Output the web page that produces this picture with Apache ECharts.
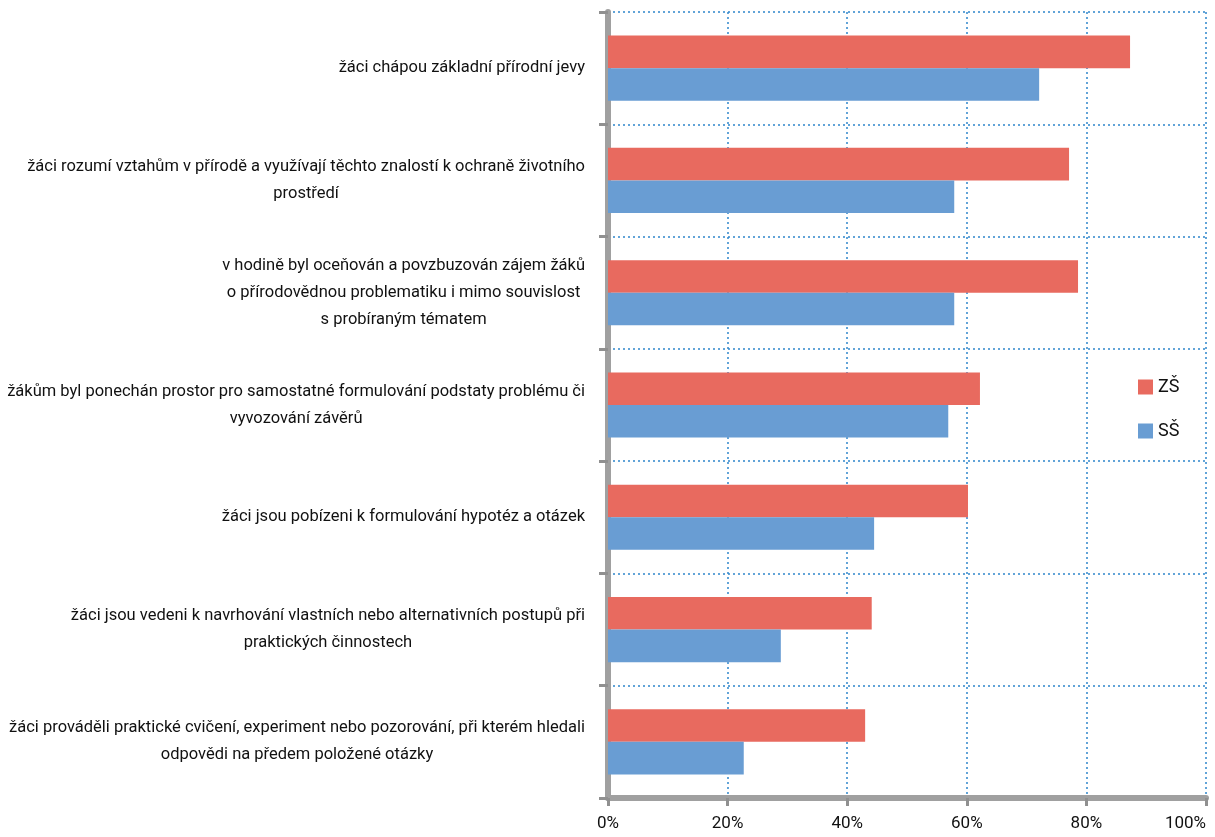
<!DOCTYPE html>
<html>
<head>
<meta charset="utf-8">
<script src="https://cdn.jsdelivr.net/npm/echarts@6/dist/echarts.min.js"></script>
<style>html,body{margin:0;padding:0;background:#fff}#c{width:1215px;height:837px}</style>
</head>
<body>
<div id="c"></div>
<script>
var categories = [
  "žáci chápou základní přírodní jevy",
  "žáci rozumí vztahům v přírodě a využívají těchto znalostí k ochraně životního\nprostředí",
  "v hodině byl oceňován a povzbuzován zájem žáků\no přírodovědnou problematiku i mimo souvislost\ns probíraným tématem",
  "žákům byl ponechán prostor pro samostatné formulování podstaty problému či\nvyvozování závěrů",
  "žáci jsou pobízeni k formulování hypotéz a otázek",
  "žáci jsou vedeni k navrhování vlastních nebo alternativních postupů při\npraktických činnostech",
  "žáci prováděli praktické cvičení, experiment nebo pozorování, při kterém hledali\nodpovědi na předem položené otázky"
];
var seriesNames = ["ZŠ", "SŠ"];
var valuesZS = [87.3, 77.1, 78.6, 62.2, 60.2, 44.1, 43.0];
var valuesSS = [72.1, 57.9, 57.9, 56.9, 44.5, 28.9, 22.7];
var xTicks = [0, 20, 40, 60, 80, 100];

var FONT = 'Roboto,"Liberation Sans",sans-serif';
var TXT = '#111111';
var chart = echarts.init(document.getElementById('c'), null, {renderer: 'canvas'});
chart.setOption({
  animation: false,
  backgroundColor: '#ffffff',
  grid: {left: 608, right: 9, top: 12, bottom: 39, containLabel: false, outerBoundsMode: 'none'},
  legend: {
    orient: 'vertical', left: 1133, top: 373,
    itemWidth: 15, itemHeight: 15, itemGap: 26,
    icon: 'rect',
    textStyle: {fontFamily: FONT, fontSize: 18, color: TXT, lineHeight: 18},
    data: seriesNames
  },
  xAxis: {
    type: 'value', min: 0, max: 100, interval: 20,
    axisLine: {show: true, lineStyle: {color: '#a0a0a0', width: 6}},
    axisTick: {show: true, length: 8, lineStyle: {color: '#909090', width: 3}},
    axisLabel: {
      fontFamily: FONT, fontSize: 17, color: TXT, margin: 17, alignMaxLabel: 'right',
      formatter: function (v) { return xTicks.indexOf(v) >= 0 ? v + '%' : ''; }
    },
    splitLine: {show: true, lineStyle: {color: '#2f86cc', type: [2, 3], width: 1.5}}
  },
  yAxis: {
    type: 'category', inverse: true, data: categories,
    axisLine: {show: true, lineStyle: {color: '#a0a0a0', width: 6}},
    axisTick: {show: true, length: 9, lineStyle: {color: '#909090', width: 3}},
    axisLabel: {
      margin: 23, align: 'right', fontFamily: FONT, fontSize: 16.5, color: TXT, lineHeight: 27,
      formatter: function (v) {
        return v.split('\n').map(function (l) { return '{c|' + l + '}'; }).join('\n');
      },
      rich: {c: {align: 'center', fontFamily: FONT, fontSize: 16.5, color: TXT, lineHeight: 27}}
    },
    splitLine: {show: true, lineStyle: {color: '#2f86cc', type: [2, 3], width: 1.5}}
  },
  series: [
    {name: seriesNames[0], type: 'bar', data: valuesZS, barGap: '0%', barCategoryGap: '42%',
     itemStyle: {color: '#e86a5f'}},
    {name: seriesNames[1], type: 'bar', data: valuesSS, barGap: '0%', barCategoryGap: '42%',
     itemStyle: {color: '#699dd3'}}
  ]
});
</script>
</body>
</html>
